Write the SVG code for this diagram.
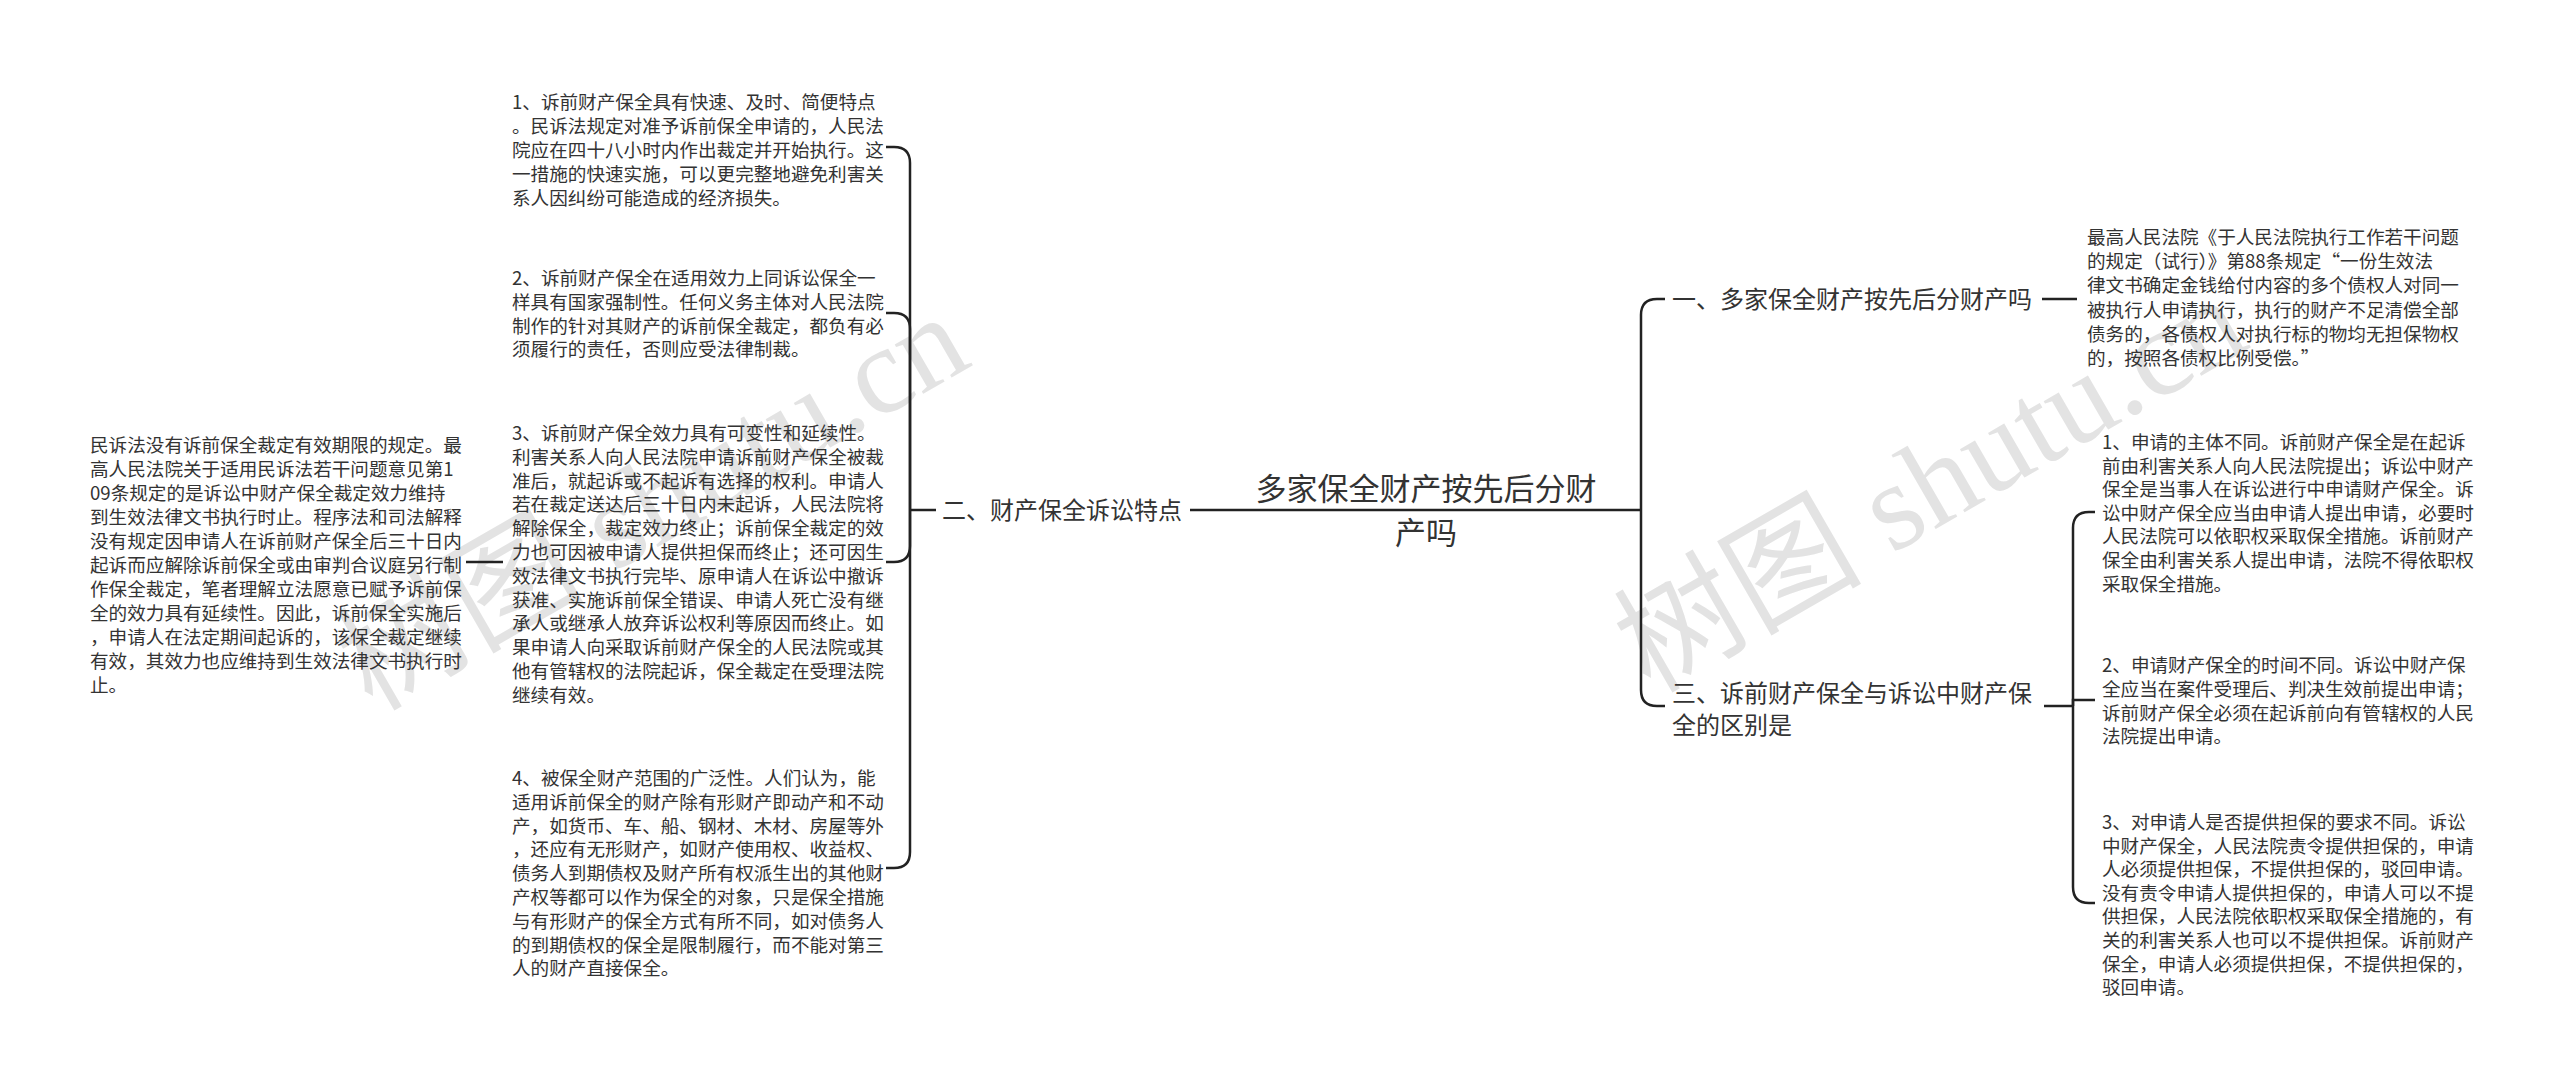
<svg xmlns="http://www.w3.org/2000/svg" width="2560" height="1086" viewBox="0 0 2560 1086">
<style>
.t{font-family:"Noto Sans CJK SC","Noto Sans",sans-serif;fill:#333;font-size:18.6px}
.b{font-family:"Noto Sans CJK SC","Noto Sans",sans-serif;fill:#333;font-size:24px}
.r{font-family:"Noto Sans CJK SC","Noto Sans",sans-serif;fill:#333;font-size:31px}
.wm{font-family:"Liberation Serif","Noto Sans CJK SC",serif;fill:#e3e3e3;font-size:124px}
.c{fill:none;stroke:#222;stroke-width:2.5}
</style>
<rect width="2560" height="1086" fill="#fff"/>
<g id="watermarks">
<text class="wm" transform="translate(372,712) rotate(-30)">树图 shutu.cn</text>
<text class="wm" transform="translate(1650,694) rotate(-30)">树图 shutu.cn</text>
</g>
<g id="connectors">
<path class="c" d="M1190,510 H1641"/>
<path class="c" d="M1641,510 V315 Q1641,299 1657,299 H1665"/>
<path class="c" d="M1641,510 V690 Q1641,706 1657,706 H1665"/>
<path class="c" d="M2042,299 H2077"/>
<path class="c" d="M2044,706 H2073"/>
<path class="c" d="M2073,706 V528 Q2073,512 2089,512 H2095"/>
<path class="c" d="M2073,706 V700 H2095"/>
<path class="c" d="M2073,706 V887 Q2073,903 2089,903 H2095"/>
<path class="c" d="M936,510 H910"/>
<path class="c" d="M910,510 V163 Q910,147 894,147 H886"/>
<path class="c" d="M910,510 V329 Q910,313 894,313 H886"/>
<path class="c" d="M910,510 V546 Q910,562 894,562 H886"/>
<path class="c" d="M910,510 V852 Q910,868 894,868 H886"/>
<path class="c" d="M503,562 H466"/>
</g>
<g id="root">
<text class="r" x="1426" y="500" text-anchor="middle">多家保全财产按先后分财</text>
<text class="r" x="1426" y="544" text-anchor="middle">产吗</text>
</g>
<g id="branch2">
<text class="b" x="942" y="519">二、财产保全诉讼特点</text>
</g>
<g id="branch1">
<text class="b" x="1672" y="308">一、多家保全财产按先后分财产吗</text>
</g>
<g id="branch3">
<text class="b" x="1672" y="702">三、诉前财产保全与诉讼中财产保</text>
<text class="b" x="1672" y="734">全的区别是</text>
</g>
<g id="b2-item1">
<text class="t" x="512" y="109">
<tspan x="512">1、诉前财产保全具有快速、及时、简便特点</tspan>
<tspan x="512" dy="24">。民诉法规定对准予诉前保全申请的，人民法</tspan>
<tspan x="512" dy="24">院应在四十八小时内作出裁定并开始执行。这</tspan>
<tspan x="512" dy="24">一措施的快速实施，可以更完整地避免利害关</tspan>
<tspan x="512" dy="24">系人因纠纷可能造成的经济损失。</tspan>
</text>
</g>
<g id="b2-item2">
<text class="t" x="512" y="285">
<tspan x="512">2、诉前财产保全在适用效力上同诉讼保全一</tspan>
<tspan x="512" dy="23.8">样具有国家强制性。任何义务主体对人民法院</tspan>
<tspan x="512" dy="23.8">制作的针对其财产的诉前保全裁定，都负有必</tspan>
<tspan x="512" dy="23.8">须履行的责任，否则应受法律制裁。</tspan>
</text>
</g>
<g id="b2-item3">
<text class="t" x="512" y="440">
<tspan x="512">3、诉前财产保全效力具有可变性和延续性。</tspan>
<tspan x="512" dy="23.8">利害关系人向人民法院申请诉前财产保全被裁</tspan>
<tspan x="512" dy="23.8">准后，就起诉或不起诉有选择的权利。申请人</tspan>
<tspan x="512" dy="23.8">若在裁定送达后三十日内未起诉，人民法院将</tspan>
<tspan x="512" dy="23.8">解除保全，裁定效力终止；诉前保全裁定的效</tspan>
<tspan x="512" dy="23.8">力也可因被申请人提供担保而终止；还可因生</tspan>
<tspan x="512" dy="23.8">效法律文书执行完毕、原申请人在诉讼中撤诉</tspan>
<tspan x="512" dy="23.8">获准、实施诉前保全错误、申请人死亡没有继</tspan>
<tspan x="512" dy="23.8">承人或继承人放弃诉讼权利等原因而终止。如</tspan>
<tspan x="512" dy="23.8">果申请人向采取诉前财产保全的人民法院或其</tspan>
<tspan x="512" dy="23.8">他有管辖权的法院起诉，保全裁定在受理法院</tspan>
<tspan x="512" dy="23.8">继续有效。</tspan>
</text>
</g>
<g id="b2-item3-child">
<text class="t" x="90" y="452">
<tspan x="90">民诉法没有诉前保全裁定有效期限的规定。最</tspan>
<tspan x="90" dy="24">高人民法院关于适用民诉法若干问题意见第1</tspan>
<tspan x="90" dy="24">09条规定的是诉讼中财产保全裁定效力维持</tspan>
<tspan x="90" dy="24">到生效法律文书执行时止。程序法和司法解释</tspan>
<tspan x="90" dy="24">没有规定因申请人在诉前财产保全后三十日内</tspan>
<tspan x="90" dy="24">起诉而应解除诉前保全或由审判合议庭另行制</tspan>
<tspan x="90" dy="24">作保全裁定，笔者理解立法愿意已赋予诉前保</tspan>
<tspan x="90" dy="24">全的效力具有延续性。因此，诉前保全实施后</tspan>
<tspan x="90" dy="24">，申请人在法定期间起诉的，该保全裁定继续</tspan>
<tspan x="90" dy="24">有效，其效力也应维持到生效法律文书执行时</tspan>
<tspan x="90" dy="24">止。</tspan>
</text>
</g>
<g id="b2-item4">
<text class="t" x="512" y="785">
<tspan x="512">4、被保全财产范围的广泛性。人们认为，能</tspan>
<tspan x="512" dy="23.8">适用诉前保全的财产除有形财产即动产和不动</tspan>
<tspan x="512" dy="23.8">产，如货币、车、船、钢材、木材、房屋等外</tspan>
<tspan x="512" dy="23.8">，还应有无形财产，如财产使用权、收益权、</tspan>
<tspan x="512" dy="23.8">债务人到期债权及财产所有权派生出的其他财</tspan>
<tspan x="512" dy="23.8">产权等都可以作为保全的对象，只是保全措施</tspan>
<tspan x="512" dy="23.8">与有形财产的保全方式有所不同，如对债务人</tspan>
<tspan x="512" dy="23.8">的到期债权的保全是限制履行，而不能对第三</tspan>
<tspan x="512" dy="23.8">人的财产直接保全。</tspan>
</text>
</g>
<g id="b1-item1">
<text class="t" x="2087" y="244">
<tspan x="2087">最高人民法院《于人民法院执行工作若干问题</tspan>
<tspan x="2087" dy="24.2">的规定（试行）》第88条规定“一份生效法</tspan>
<tspan x="2087" dy="24.2">律文书确定金钱给付内容的多个债权人对同一</tspan>
<tspan x="2087" dy="24.2">被执行人申请执行，执行的财产不足清偿全部</tspan>
<tspan x="2087" dy="24.2">债务的，各债权人对执行标的物均无担保物权</tspan>
<tspan x="2087" dy="24.2">的，按照各债权比例受偿。”</tspan>
</text>
</g>
<g id="b3-item1">
<text class="t" x="2102" y="449">
<tspan x="2102">1、申请的主体不同。诉前财产保全是在起诉</tspan>
<tspan x="2102" dy="23.6">前由利害关系人向人民法院提出；诉讼中财产</tspan>
<tspan x="2102" dy="23.6">保全是当事人在诉讼进行中申请财产保全。诉</tspan>
<tspan x="2102" dy="23.6">讼中财产保全应当由申请人提出申请，必要时</tspan>
<tspan x="2102" dy="23.6">人民法院可以依职权采取保全措施。诉前财产</tspan>
<tspan x="2102" dy="23.6">保全由利害关系人提出申请，法院不得依职权</tspan>
<tspan x="2102" dy="23.6">采取保全措施。</tspan>
</text>
</g>
<g id="b3-item2">
<text class="t" x="2102" y="672">
<tspan x="2102">2、申请财产保全的时间不同。诉讼中财产保</tspan>
<tspan x="2102" dy="23.8">全应当在案件受理后、判决生效前提出申请；</tspan>
<tspan x="2102" dy="23.8">诉前财产保全必须在起诉前向有管辖权的人民</tspan>
<tspan x="2102" dy="23.8">法院提出申请。</tspan>
</text>
</g>
<g id="b3-item3">
<text class="t" x="2102" y="829">
<tspan x="2102">3、对申请人是否提供担保的要求不同。诉讼</tspan>
<tspan x="2102" dy="23.6">中财产保全，人民法院责令提供担保的，申请</tspan>
<tspan x="2102" dy="23.6">人必须提供担保，不提供担保的，驳回申请。</tspan>
<tspan x="2102" dy="23.6">没有责令申请人提供担保的，申请人可以不提</tspan>
<tspan x="2102" dy="23.6">供担保，人民法院依职权采取保全措施的，有</tspan>
<tspan x="2102" dy="23.6">关的利害关系人也可以不提供担保。诉前财产</tspan>
<tspan x="2102" dy="23.6">保全，申请人必须提供担保，不提供担保的，</tspan>
<tspan x="2102" dy="23.6">驳回申请。</tspan>
</text>
</g>
</svg>
